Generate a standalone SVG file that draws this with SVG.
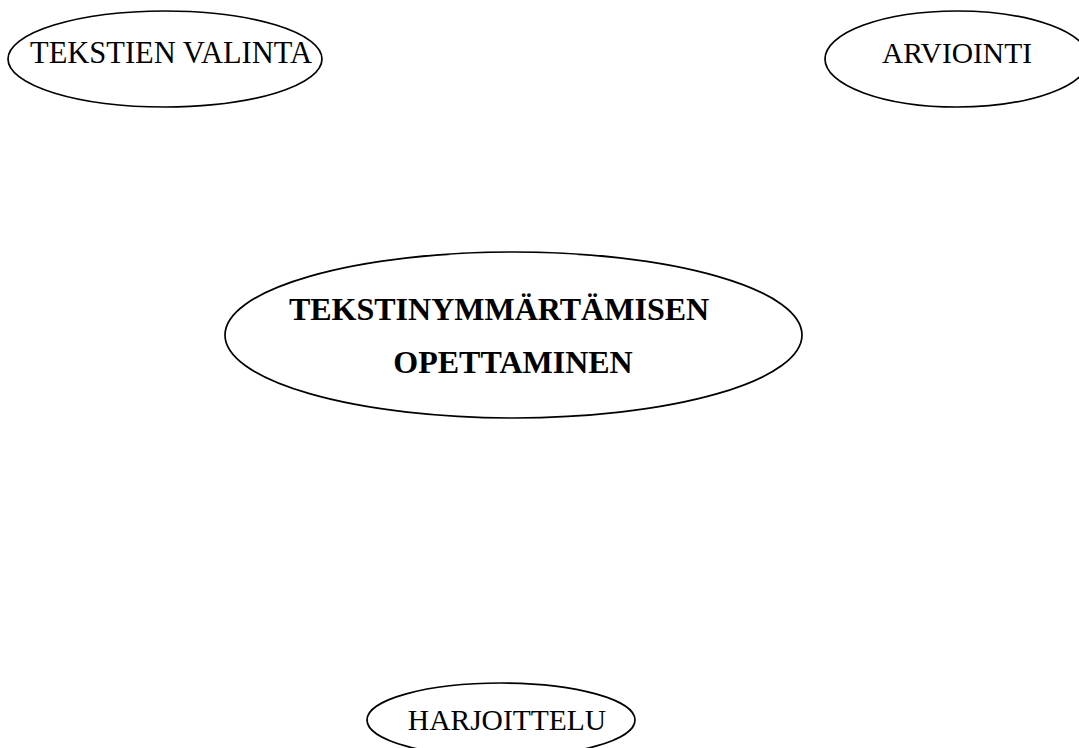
<svg xmlns="http://www.w3.org/2000/svg" width="1079" height="748" viewBox="0 0 1079 748">
  <style>
    .bubble { fill: #ffffff; stroke: #000000; stroke-width: 1.7; }
    .label { font-family: "Liberation Serif", "Times New Roman", serif; font-size: 29.5px; fill: #000000; }
    .title { font-family: "Liberation Serif", "Times New Roman", serif; font-size: 32px; font-weight: bold; fill: #000000; }
  </style>
  <rect width="1079" height="748" fill="#ffffff"/>
  <g id="connectors"></g>
  <g id="node-tekstien-valinta">
    <ellipse class="bubble" cx="165" cy="59" rx="157" ry="48"/>
    <text class="label" x="171" y="63" text-anchor="middle" style="font-size:30.5px">TEKSTIEN VALINTA</text>
  </g>
  <g id="node-arviointi">
    <ellipse class="bubble" cx="957" cy="59" rx="132" ry="48"/>
    <text class="label" x="957" y="63" text-anchor="middle">ARVIOINTI</text>
  </g>
  <g id="node-tekstinymmartamisen-opettaminen">
    <ellipse class="bubble" cx="513.5" cy="335" rx="288.5" ry="83"/>
    <text class="title" x="499" y="320" text-anchor="middle">TEKSTINYMMÄRTÄMISEN</text>
    <text class="title" x="513" y="373" text-anchor="middle">OPETTAMINEN</text>
  </g>
  <g id="node-harjoittelu">
    <ellipse class="bubble" cx="501" cy="720" rx="134" ry="37"/>
    <text class="label" x="507" y="730" text-anchor="middle">HARJOITTELU</text>
  </g>
</svg>
